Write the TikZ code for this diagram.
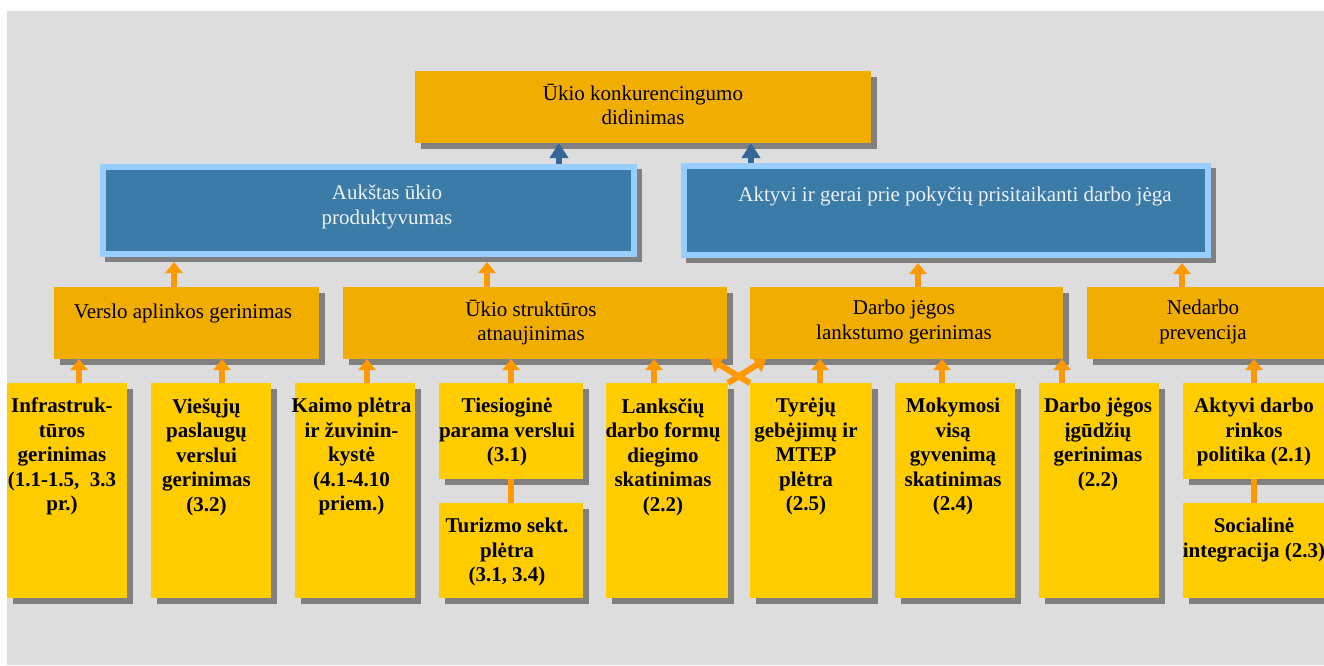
\documentclass[tikz,border=0pt]{standalone}
\usepackage{fontspec}
\setmainfont{Liberation Serif}
\usepackage{tikz}
\usetikzlibrary{arrows.meta,shadows}
\definecolor{bggray}{RGB}{221,221,221}
\definecolor{topor}{RGB}{242,174,0}
\definecolor{lowyel}{RGB}{255,204,0}
\definecolor{arrowor}{RGB}{255,153,0}
\definecolor{deepblue}{RGB}{59,123,168}
\definecolor{skyblue}{RGB}{153,204,255}
\definecolor{arrowblue}{RGB}{51,102,153}
\definecolor{shadowgray}{RGB}{128,128,128}
\newcommand{\boxfont}{\fontsize{21}{24.5}\selectfont}

\begin{document}
\begin{tikzpicture}[x=1pt,y=-1pt,
    chartbox/.style={anchor=north west,inner sep=0pt,outer sep=0pt,
      drop shadow={shadow xshift=6pt,shadow yshift=-6pt,opacity=1,fill=shadowgray}},
    topbox/.style={chartbox,fill=topor},
    lowbox/.style={chartbox,fill=lowyel},
    bluebox/.style={anchor=north west,inner sep=0pt,outer sep=3pt,fill=deepblue,draw=skyblue,line width=6pt,
      drop shadow={shadow xshift=5pt,shadow yshift=-5pt,opacity=1,fill=shadowgray,draw=shadowgray}},
    txt/.style={anchor=north,align=center,inner sep=0pt,font=\boxfont,execute at begin node=\strut},
    lowtxt/.style={txt,font=\boxfont\bfseries},
    orarrow/.style={draw=arrowor,line width=6pt,-{Triangle[width=17pt,length=11pt]}},
    blarrow/.style={draw=arrowblue,line width=6pt,-{Triangle[width=18pt,length=15pt]}},
    orline/.style={draw=arrowor,line width=6pt}]
    \useasboundingbox (0,0) rectangle (1324,665);
    \clip (0,0) rectangle (1324,665);
    \fill[white] (0,0) rectangle (1324,665);
    \fill[bggray] (7,11) rectangle (1324,665);

    % goal and the two results
    \node[topbox,minimum width=456pt,minimum height=72pt] (konk) at (415,71) {};
    \node[bluebox,minimum width=531pt,minimum height=87pt] (prod) at (100,164) {};
    \node[bluebox,minimum width=524pt,minimum height=89pt] (jega) at (681,163) {};
    \node[txt] (konk-t) at (643,84) {Ūkio konkurencingumo\\didinimas};
    \node[txt,text=white!94!black] (prod-t) at (387,185) {Aukštas ūkio\\produktyvumas};
    \node[txt,text=white!94!black] (jega-t) at (955,184) {Aktyvi ir gerai prie pokyčių prisitaikanti darbo jėga};

    % priorities
    \node[topbox,minimum width=265pt,minimum height=72pt] (versl) at (54,287) {};
    \node[topbox,minimum width=384pt,minimum height=72pt] (ukis) at (343,287) {};
    \node[topbox,minimum width=313pt,minimum height=72pt] (darbo) at (750,287) {};
    \node[topbox,minimum width=243pt,minimum height=72pt] (nedar) at (1087,287) {};
    \node[txt] (versl-t) at (183,301) {Verslo aplinkos gerinimas};
    \node[txt] (ukis-t) at (531,300) {Ūkio struktūros\\atnaujinimas};
    \node[txt] (darbo-t) at (904,300) {Darbo jėgos\\lankstumo gerinimas};
    \node[txt] (nedar-t) at (1203,300) {Nedarbo\\prevencija};

    % measures
    \node[lowbox,minimum width=120pt,minimum height=215pt] (infra) at (7,383) {};
    \node[lowbox,minimum width=120pt,minimum height=215pt] (viesi) at (151,383) {};
    \node[lowbox,minimum width=120pt,minimum height=215pt] (kaimo) at (295,383) {};
    \node[lowbox,minimum width=144pt,minimum height=96pt] (tiesi) at (439,383) {};
    \node[lowbox,minimum width=144pt,minimum height=95pt] (turiz) at (439,503) {};
    \node[lowbox,minimum width=122pt,minimum height=215pt] (lanks) at (606,383) {};
    \node[lowbox,minimum width=122pt,minimum height=215pt] (tyrej) at (750,383) {};
    \node[lowbox,minimum width=120pt,minimum height=215pt] (mokym) at (895,383) {};
    \node[lowbox,minimum width=120pt,minimum height=215pt] (igudz) at (1039,383) {};
    \node[lowbox,minimum width=142pt,minimum height=96pt] (aktyv) at (1183,383) {};
    \node[lowbox,minimum width=142pt,minimum height=95pt] (socia) at (1183,503) {};
    \node[lowtxt] (infra-t) at (62,398) {Infrastruk-\\tūros\\gerinimas\\(1.1-1.5,\ \ 3.3\\pr.)};
    \node[lowtxt] (viesi-t) at (206.5,398) {Viešųjų\\paslaugų\\verslui\\gerinimas\\(3.2)};
    \node[lowtxt] (kaimo-t) at (351.5,398) {Kaimo plėtra\\ir žuvinin-\\kystė\\(4.1-4.10\\priem.)};
    \node[lowtxt] (tiesi-t) at (507,398) {Tiesioginė\\parama verslui\\(3.1)};
    \node[lowtxt] (turiz-t) at (507,518) {Turizmo sekt.\\plėtra\\(3.1, 3.4)};
    \node[lowtxt] (lanks-t) at (663,398) {Lanksčių\\darbo formų\\diegimo\\skatinimas\\(2.2)};
    \node[lowtxt] (tyrej-t) at (806,398) {Tyrėjų\\gebėjimų ir\\MTEP\\plėtra\\(2.5)};
    \node[lowtxt] (mokym-t) at (953,398) {Mokymosi\\visą\\gyvenimą\\skatinimas\\(2.4)};
    \node[lowtxt] (igudz-t) at (1098,398) {Darbo jėgos\\įgūdžių\\gerinimas\\(2.2)};
    \node[lowtxt] (aktyv-t) at (1254,398) {Aktyvi darbo\\rinkos\\politika (2.1)};
    \node[lowtxt] (socia-t) at (1254,518) {Socialinė\\integracija (2.3)};

    % connectors
    \draw[blarrow] ([xshift=190.5pt]prod.north) -- ([xshift=190.5pt]prod.north |- konk.south);
    \draw[blarrow] ([xshift=-195pt]jega.north) -- ([xshift=-195pt]jega.north |- konk.south);
    \foreach \a/\b/\s in {versl/prod/-12.5, ukis/prod/-48, darbo/jega/11.5, nedar/jega/-26.5}
        \draw[orarrow,shorten >=5pt] ([xshift=\s pt]\a.north) -- ([xshift=\s pt]\a.north |- \b.south);
    \foreach \a/\b/\s in {infra/versl/12, viesi/versl/11, kaimo/ukis/12, tiesi/ukis/0, lanks/ukis/-13,
                          tyrej/darbo/9, mokym/darbo/-13, igudz/darbo/-37, aktyv/nedar/0}
        \draw[orarrow] ([xshift=\s pt]\a.north) -- ([xshift=\s pt]\a.north |- \b.south);
    \draw[orarrow] (lanks.north east) -- ([xshift=16pt]darbo.south west);
    \draw[orarrow] (tyrej.north west) -- ([xshift=-17pt]ukis.south east);
    \draw[orline] (tiesi.south) -- (turiz.north);
    \draw[orline] (aktyv.south) -- (socia.north);
\end{tikzpicture}
\end{document}
